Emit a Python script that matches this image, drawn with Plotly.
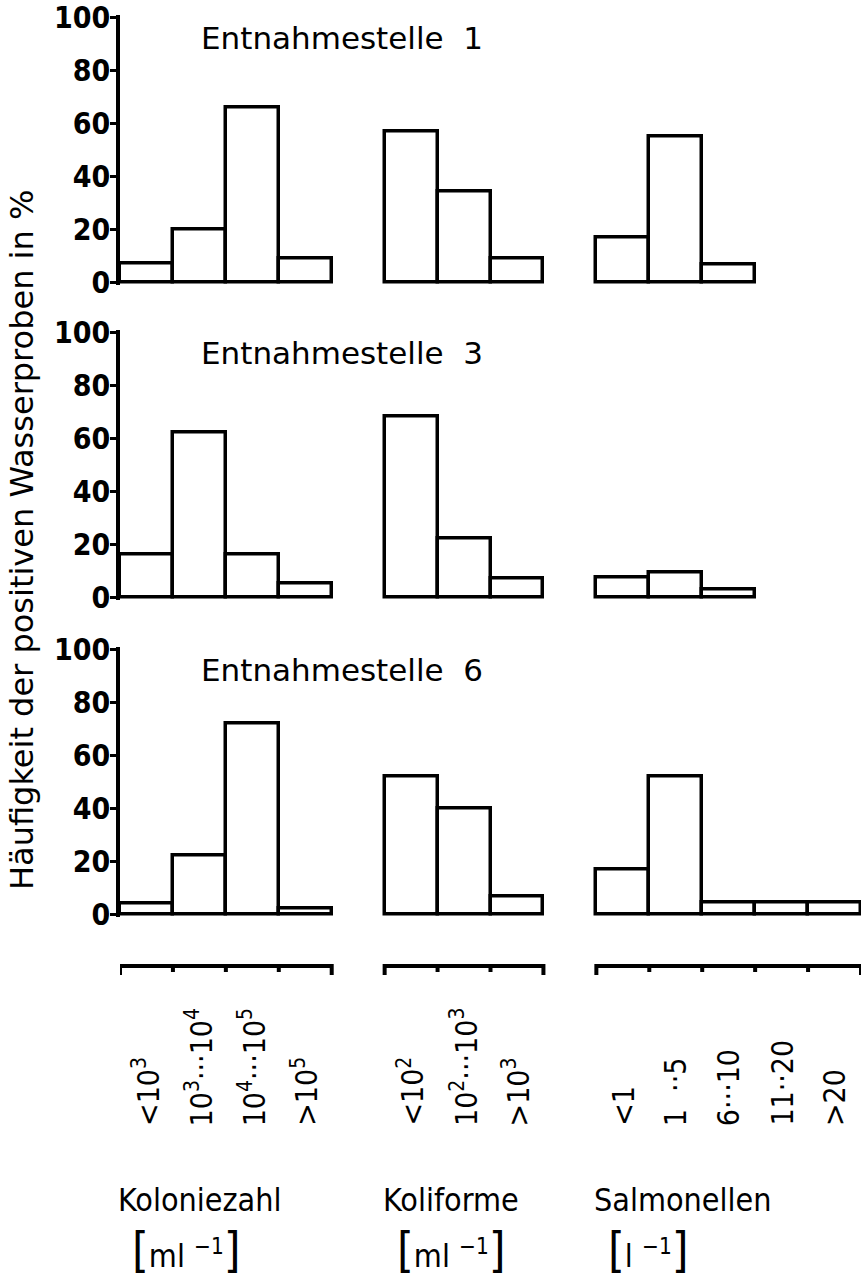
import plotly.graph_objects as go

W, H = 862, 1277

# ---- data ----
stations = ["Entnahmestelle  1", "Entnahmestelle  3", "Entnahmestelle  6"]
group_names = ["Koloniezahl", "Koliforme", "Salmonellen"]
group_units = ["ml <sup>−1</sup>", "ml <sup>−1</sup>", "l <sup>−1</sup>"]
kolonie_labels = ["<10<sup>3</sup>", "10<sup>3</sup>···10<sup>4</sup>", "10<sup>4</sup>···10<sup>5</sup>", ">10<sup>5</sup>"]
koliforme_labels = ["<10<sup>2</sup>", "10<sup>2</sup>···10<sup>3</sup>", ">10<sup>3</sup>"]
salmonellen_labels = ["<1", "1  ··5", "6···10", "11··20", ">20"]

kolonie_values = [
    [7, 20, 66, 9],     # Stelle 1
    [16, 62, 16, 5],    # Stelle 3
    [4, 22, 72, 2],     # Stelle 6
]
koliforme_values = [
    [57, 34, 9],
    [68, 22, 7],
    [52, 40, 6.5],
]
salmonellen_values = [
    [17, 55, 6.5],
    [7.5, 9.3, 3],
    [17, 52, 4.4, 4.4, 4.4],
]
ytick_vals = [0, 20, 40, 60, 80, 100]
y_title = "Häufigkeit der positiven Wasserproben in %"

# ---- layout helpers ----
FONT = "DejaVu Sans Condensed, DejaVu Sans"
FONT_WIDE = "DejaVu Sans"
X0, X1 = 120, 861
ZERO_PIX = [282, 597, 914]
PX_PER_UNIT = 2.65


def fy(p):
    return 1 - p / H


groups_labels = [kolonie_labels, koliforme_labels, salmonellen_labels]
groups_values = [kolonie_values, koliforme_values, salmonellen_values]
starts = []
s = 0
for lab in groups_labels:
    starts.append(s)
    s += len(lab) + 1
xmax = s - 1
unit_px = (X1 - X0) / xmax


def fx_data(xv):
    return (X0 + xv * unit_px) / W


fig = go.Figure()
layout = dict(
    width=W, height=H, autosize=False,
    margin=dict(l=0, r=0, t=0, b=0, pad=0, autoexpand=False),
    paper_bgcolor="white", plot_bgcolor="white", showlegend=False,
    font=dict(family=FONT, color="black"),
)
annotations = []

for r in range(3):
    ax = "" if r == 0 else str(r + 1)
    for g, (labs, vals) in enumerate(zip(groups_labels, groups_values)):
        v = vals[r]
        xs = [starts[g] + i + 0.5 for i in range(len(v))]
        fig.add_trace(go.Bar(
            x=xs, y=v, width=1, xaxis="x" + ax, yaxis="y" + ax,
            marker=dict(color="white", line=dict(color="black", width=3.5)),
            hoverinfo="skip",
        ))
    z = ZERO_PIX[r]
    top = z - 100.6 * PX_PER_UNIT
    bot = z + 1.0 * PX_PER_UNIT
    layout["xaxis" + ax] = dict(domain=[X0 / W, X1 / W], range=[0, xmax], visible=False,
                                anchor="y" + ax, automargin=False)
    layout["yaxis" + ax] = dict(domain=[fy(bot), fy(top)], range=[-1.0, 100.6],
                                anchor="x" + ax, showline=True, linecolor="black", linewidth=3.5,
                                ticks="outside", ticklen=6, tickwidth=3, tickcolor="black",
                                tickvals=ytick_vals, showgrid=False, zeroline=False,
                                automargin=False, ticklabelstandoff=-6, ticklabeloverflow="allow",
                                tickfont=dict(size=30, family=FONT, color="black", weight="bold"))
    annotations.append(dict(text=stations[r], xref="paper", yref="paper",
                            x=199 / W, y=fy(z - 92 * PX_PER_UNIT), xanchor="left", yanchor="middle",
                            showarrow=False, font=dict(size=31, family=FONT_WIDE)))

# ruler axis (row 4)
rx, ry = [], []
for g, labs in enumerate(groups_labels):
    s0, n = starts[g], len(labs)
    rx += [s0, s0, s0 + n, s0 + n, None]
    ry += [-9, 0, 0, -9, None]
    for k in range(1, n):
        rx += [s0 + k, s0 + k, None]
        ry += [0, -6, None]
fig.add_trace(go.Scatter(x=rx, y=ry, mode="lines", xaxis="x4", yaxis="y4",
                         line=dict(color="black", width=4), hoverinfo="skip", cliponaxis=False))
layout["xaxis4"] = dict(domain=[X0 / W, X1 / W], range=[0, xmax], visible=False, anchor="y4",
                        automargin=False)
layout["yaxis4"] = dict(domain=[fy(986), fy(956)], range=[-20, 10], visible=False, anchor="x4",
                        automargin=False)

# category labels (rotated)
BR = "<span style='font-size:48px'>{}</span>"
for g, labs in enumerate(groups_labels):
    for i, lab in enumerate(labs):
        annotations.append(dict(text=lab, xref="paper", yref="paper", x=fx_data(starts[g] + i + 0.5),
                                y=fy(1128), xanchor="center", yanchor="bottom", textangle=-90,
                                showarrow=False, font=dict(size=30, family=FONT)))
    annotations.append(dict(text=group_names[g], xref="paper", yref="paper",
                            x=fx_data(starts[g]) - 4 / W,
                            y=fy(1200), xanchor="left", yanchor="middle", showarrow=False,
                            font=dict(size=32, family=FONT)))
    annotations.append(dict(text=BR.format("[") + group_units[g] + BR.format("]"),
                            xref="paper", yref="paper", x=fx_data(starts[g]) + 10 / W,
                            y=fy(1250), xanchor="left", yanchor="middle", showarrow=False,
                            font=dict(size=32, family=FONT)))

annotations.append(dict(text=y_title, xref="paper", yref="paper", x=22 / W, y=fy(540),
                        xanchor="center", yanchor="middle", textangle=-90, showarrow=False,
                        font=dict(size=32, family=FONT_WIDE)))

layout["annotations"] = annotations
layout["bargap"] = 0
fig.update_layout(**layout)
fig.write_html(
    "out.html",
    config={"displayModeBar": False},
    post_script=(
        "document.documentElement.style.margin='0';"
        "document.body.style.margin='0';document.body.style.overflow='hidden';"
        "var gd=document.getElementById('{plot_id}');"
        "gd.style.position='fixed';gd.style.top='0px';gd.style.left='0px';"
    ),
)
